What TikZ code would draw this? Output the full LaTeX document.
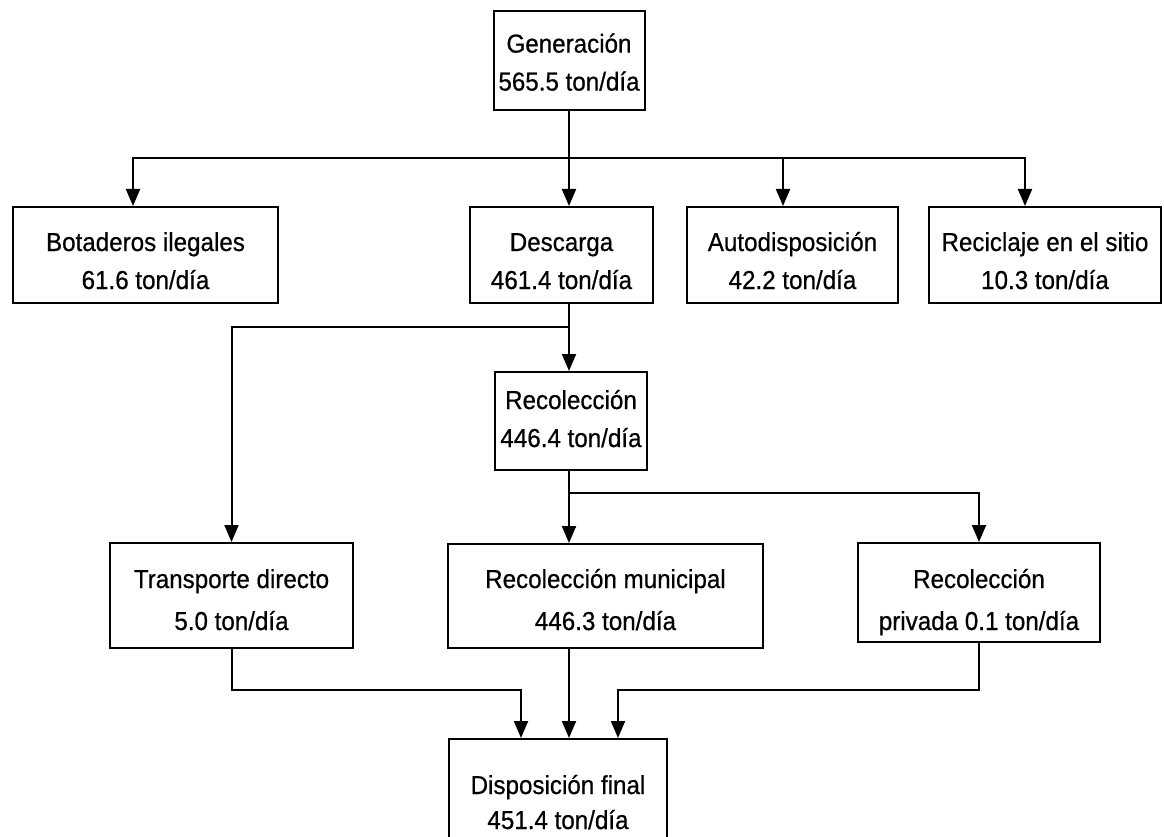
\documentclass[tikz,border=0pt]{standalone}
\usepackage{fontspec}
\setmainfont{Liberation Sans}[FakeStretch=0.93,FakeBold=0.6]
\usetikzlibrary{arrows.meta}
\begin{document}
\begin{tikzpicture}[x=1pt,y=-1pt,
  box/.style={draw, line width=2pt, inner sep=0pt},
  txt/.style={align=center, inner sep=0pt, font=\fontsize{26}{#1}\selectfont},
  txt/.default=38,
  ln/.style={line width=2pt},
  arr/.style={line width=2pt, -{Triangle[width=14pt,length=17pt]}}]
\useasboundingbox (0,0) rectangle (1164,837);
\clip (0,0) rectangle (1164,837);
% boxes
\node[box, minimum width=151pt, minimum height=99pt] (gen) at (569,60.5) {};
\node[txt] (gent) at (569,64) {\strut Generación\\\strut 565.5 ton/día};

\node[box, minimum width=265pt, minimum height=96pt] (bot) at (145.5,255) {};
\node[txt] (bott) at (145.5,262.4) {\strut Botaderos ilegales\\\strut 61.6 ton/día};

\node[box, minimum width=183pt, minimum height=96pt] (des) at (561.5,255) {};
\node[txt] (dest) at (561.5,262.4) {\strut Descarga\\\strut 461.4 ton/día};

\node[box, minimum width=211pt, minimum height=96pt] (aut) at (792.5,255) {};
\node[txt] (autt) at (792.5,262.4) {\strut Autodisposición\\\strut 42.2 ton/día};

\node[box, minimum width=232pt, minimum height=96pt] (rec) at (1045,255) {};
\node[txt] (rect) at (1045,262.4) {\strut Reciclaje en el sitio\\\strut 10.3 ton/día};

\node[box, minimum width=152pt, minimum height=98pt] (recol) at (571,421) {};
\node[txt] (recolt) at (571,420.4) {\strut Recolección\\\strut 446.4 ton/día};

\node[box, minimum width=243pt, minimum height=105pt] (tra) at (231.5,595.5) {};
\node[txt=42] (trat) at (231.5,600.6) {\strut Transporte directo\\\strut 5.0 ton/día};

\node[box, minimum width=315pt, minimum height=104pt] (mun) at (605.5,596) {};
\node[txt=42] (munt) at (605.5,600.6) {\strut Recolección municipal\\\strut 446.3 ton/día};

\node[box, minimum width=242pt, minimum height=99pt] (pri) at (979,592.5) {};
\node[txt=42] (prit) at (979,600.6) {\strut Recolección\\\strut privada 0.1 ton/día};

\node[box, minimum width=218pt, minimum height=111pt] (dis) at (558,794.5) {};
\node[txt=35] (dist) at (558,804.5) {\strut Disposición final\\\strut 451.4 ton/día};

% junctions
\coordinate (j1) at (569,158);
\coordinate (cb) at (133,158);
\coordinate (ca) at (783,158);
\coordinate (cr) at (1025,158);
\coordinate (j2) at (569,327);
\coordinate (j3) at (569,493);
\coordinate (k1) at (521,690);
\coordinate (k2) at (618,690);

% connectors
\draw[arr] (gen.south) -- (gen.south |- des.north);
\draw[arr] (j1) -| (cb |- bot.north);
\draw[arr] (j1) -| (ca |- aut.north);
\draw[arr] (j1) -| (cr |- rec.north);

\draw[arr] (gen.south |- des.south) -- (gen.south |- recol.north);
\draw[arr] (j2) -| (tra.north);

\draw[arr] (gen.south |- recol.south) -- (gen.south |- mun.north);
\draw[arr] (j3) -| (pri.north);

\draw[arr] (tra.south) |- (k1) -- (k1 |- dis.north);
\draw[arr] (gen.south |- mun.south) -- (gen.south |- dis.north);
\draw[arr] (pri.south) |- (k2) -- (k2 |- dis.north);
\end{tikzpicture}
\end{document}
